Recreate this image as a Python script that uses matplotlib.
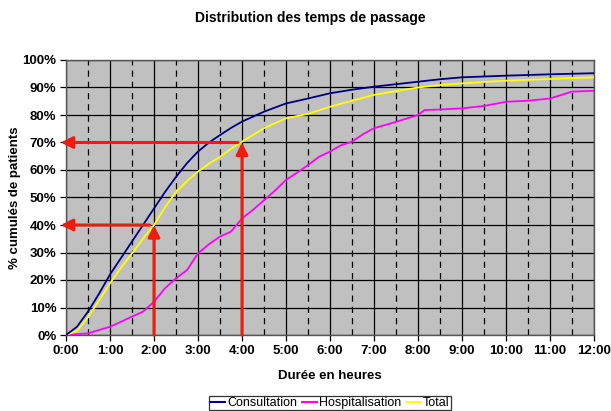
import matplotlib
matplotlib.use("Agg")
import matplotlib.pyplot as plt
from matplotlib.lines import Line2D

plt.rcParams['font.family'] = ['Liberation Sans', 'DejaVu Sans']

# Hours
hours_c = [0, 0.25, 0.5, 0.75, 1, 1.25, 1.5, 1.75, 2, 2.25, 2.5, 2.75, 3, 3.25, 3.5, 3.75, 4,
           4.5, 5, 5.5, 6, 6.5, 7, 7.5, 8, 8.5, 9, 10, 11, 12]
consultation = [0, 3, 8.5, 15, 22, 28, 34, 40, 46, 52, 57.5, 62.5, 66.7, 70, 72.7, 75.3, 77.6,
                81.2, 84.2, 86, 87.9, 89.2, 90.3, 91.2, 92.1, 93, 93.7, 94.3, 94.8, 95.2]
total = [0, 1.5, 6.5, 12.5, 18.8, 24.5, 29.7, 35, 40, 46.5, 52, 56, 59.4, 62.3, 64.8, 67.7, 70.3,
         75.2, 78.8, 80.4, 83, 85.2, 87.3, 88.7, 90, 90.9, 91.5, 92.5, 93.1, 93.7]
hours_h = [0, 0.5, 1, 1.25, 1.5, 1.75, 2, 2.25, 2.5, 2.75, 3, 3.25, 3.5, 3.75, 4, 4.25, 4.5, 4.75,
           5, 5.25, 5.5, 5.75, 6, 6.25, 6.5, 6.75, 7, 7.5, 8, 8.15, 8.5, 9, 9.5, 10, 10.5, 11, 11.5, 12]
hospitalisation = [0, 0.6, 3, 4.8, 6.7, 8.5, 12.1, 17, 20.6, 23.6, 29.7, 33, 35.8, 37.6, 42.4, 45.5,
                   49, 52.5, 56.4, 59, 61.8, 64.8, 66.7, 69, 70.3, 73, 75.2, 77.5, 80, 81.8, 82, 82.4,
                   83.3, 84.8, 85.2, 86, 88.5, 88.8]

x_ticks = list(range(13))
x_labels = [f"{h}:00" for h in x_ticks]
y_ticks = list(range(0, 101, 10))
y_labels = [f"{v}%" for v in y_ticks]

# Arrow annotations: (x_hour, y_pct)
arrow_points = [(2, 40), (4, 70)]

fig = plt.figure(figsize=(6.11, 4.11), dpi=100)
ax = fig.add_axes([66/611, 1-335/411, (594-66)/611, (335-60)/411])
ax.set_facecolor('#c0c0c0')

# grid
for h in x_ticks:
    ax.axvline(h, color='black', lw=0.9, zorder=1)
for h in [i + 0.5 for i in range(12)]:
    ax.axvline(h, color='black', lw=0.9, ls=(0, (5, 4)), zorder=1)
for v in y_ticks:
    ax.axhline(v, color='black', lw=0.9, zorder=1)

ax.plot(hours_h, hospitalisation, color='#ff00ff', lw=1.3, zorder=3)
ax.plot(hours_c, total, color='#ffff00', lw=1.3, zorder=3)
ax.plot(hours_c, consultation, color='#000080', lw=1.3, zorder=3)

ax.set_xlim(0, 12)
ax.set_ylim(0, 100)
ax.set_xticks(x_ticks)
ax.set_xticklabels(x_labels, fontsize=9.5, fontweight='bold')
ax.set_yticks(y_ticks)
ax.set_yticklabels(y_labels, fontsize=9.5, fontweight='bold')
ax.tick_params(length=4, width=0.9, color='black', pad=3)
for s in ax.spines.values():
    s.set_color('#555555')
    s.set_linewidth(1.0)

# red arrows
red = '#ee1c0e'
for xh, yp in arrow_points:
    ax.annotate('', xy=(xh, yp), xytext=(xh, 0), annotation_clip=False,
                arrowprops=dict(arrowstyle='-|>,head_length=0.7,head_width=0.35', color=red, lw=2.2,
                                shrinkA=0, shrinkB=0), zorder=5)
    ax.annotate('', xy=(-0.12, yp), xytext=(xh - 0.1, yp), annotation_clip=False,
                arrowprops=dict(arrowstyle='-|>,head_length=0.7,head_width=0.35', color=red, lw=2.2,
                                shrinkA=0, shrinkB=0), zorder=5)

ax.set_xlabel('Durée en heures', fontsize=9.5, fontweight='bold')
ax.xaxis.set_label_coords((330 - 66) / 528, -(370 - 335) / 275)
ax.set_ylabel('% cumulés de patients', fontsize=9.5, fontweight='bold')
ax.yaxis.set_label_coords(-(66 - 21) / 528, 0.5)
fig.text(310 / 611, 1 - 18/411, 'Distribution des temps de passage',
         ha='center', va='center', fontsize=10, fontweight='bold')

handles = [Line2D([], [], color='#000080', lw=1.5),
           Line2D([], [], color='#ff00ff', lw=1.5),
           Line2D([], [], color='#ffff00', lw=1.5)]
leg = fig.legend(handles, ['Consultation', 'Hospitalisation', 'Total'], ncol=3,
                 loc='center', bbox_to_anchor=(330/611, 1 - 403/411), fontsize=9,
                 frameon=True, fancybox=False, edgecolor='black', handlelength=1.2,
                 handletextpad=0.15, columnspacing=0.4, borderpad=0.1, borderaxespad=0)
leg.get_frame().set_linewidth(0.9)

fig.savefig('out.png', dpi=100)
